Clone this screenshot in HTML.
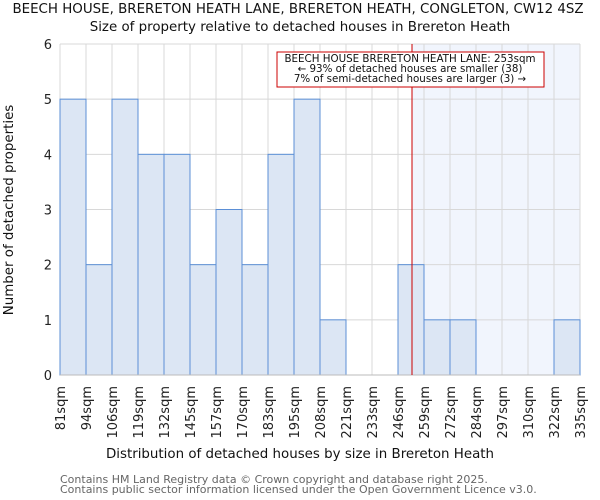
<!DOCTYPE html>
<html><head><meta charset="utf-8"><style>body{margin:0;background:#fff}svg{display:block;font-family:"DejaVu Sans","Liberation Sans",sans-serif}</style></head>
<body>
<svg id="c" width="600" height="500"></svg>
<script>
const categories=["81sqm","94sqm","106sqm","119sqm","132sqm","145sqm","157sqm","170sqm","183sqm","195sqm","208sqm","221sqm","233sqm","246sqm","259sqm","272sqm","284sqm","297sqm","310sqm","322sqm","335sqm"];
const binStarts=[81,94,106,119,132,145,157,170,183,195,208,221,233,246,259,272,284,297,310,322,335];
const counts=[5,2,5,4,4,2,3,2,4,5,1,0,0,2,1,1,0,0,0,1];
const yTicks=[0,1,2,3,4,5,6];
const markerValue=253;
const NS="http://www.w3.org/2000/svg";
const svg=document.getElementById('c');
const L=60,R=580,T=44,B=375,n=counts.length,bw=(R-L)/n;
const x=i=>L+i*bw;
const y=v=>B-(v/6)*(B-T);
function xv(v){let i=0;while(i<n-1&&binStarts[i+1]<=v)i++;return x(i)+(v-binStarts[i])/(binStarts[i+1]-binStarts[i])*bw;}
function mk(t,a,txt){const e=document.createElementNS(NS,t);for(const k in a)e.setAttribute(k,a[k]);if(txt!=null)e.textContent=txt;svg.appendChild(e);return e;}
const mx=xv(markerValue);
let e=mk('rect',{x:mx,y:T,width:R-mx,height:B-T,fill:'#f1f5fd'});


for(let i=0;i<=n;i++){e=mk('line',{x1:x(i),x2:x(i),y1:T,y2:B,stroke:'#d8d8d8','stroke-width':1});

}
yTicks.forEach(v=>{e=mk('line',{x1:L,x2:R,y1:y(v),y2:y(v),stroke:'#d8d8d8','stroke-width':1});


e=mk('text',{x:L-8,y:y(v)+5,'text-anchor':'end','font-size':13,fill:'#222'},v);

});
counts.forEach((c,i)=>{if(c<=0)return;e=mk('rect',{x:x(i),y:y(c),width:bw,height:B-y(c),fill:'#dce6f4',stroke:'#5b8fd6','stroke-width':1});

});
e=mk('line',{x1:L,x2:R,y1:B,y2:B,stroke:'#bbb'});


categories.forEach((c,i)=>{e=mk('text',{transform:`translate(${x(i)+5},386) rotate(-90)`,'text-anchor':'end','font-size':13,fill:'#222'},c);

});
e=mk('line',{x1:mx,x2:mx,y1:T,y2:B,stroke:'#cc0000','stroke-width':1});


e=mk('rect',{x:277,y:52,width:267,height:35,fill:'#fff',stroke:'#cc0000','stroke-width':1});


[["BEECH HOUSE BRERETON HEATH LANE: 253sqm",62],["← 93% of detached houses are smaller (38)",72],["7% of semi-detached houses are larger (3) →",82]].forEach(([t,yy])=>{e=mk('text',{x:410,y:yy,'text-anchor':'middle','font-size':10.3,fill:'#111'},t);

});
e=mk('text',{x:298,y:13,'text-anchor':'middle','font-size':13.4,fill:'#111'},"BEECH HOUSE, BRERETON HEATH LANE, BRERETON HEATH, CONGLETON, CW12 4SZ");


e=mk('text',{x:300,y:31,'text-anchor':'middle','font-size':13.4,fill:'#111'},"Size of property relative to detached houses in Brereton Heath");


e=mk('text',{x:300,y:458,'text-anchor':'middle','font-size':13.4,fill:'#111'},"Distribution of detached houses by size in Brereton Heath");


e=mk('text',{transform:'translate(13,210) rotate(-90)','text-anchor':'middle','font-size':13.4,fill:'#111'},"Number of detached properties");


e=mk('text',{x:60,y:483,'font-size':11,fill:'#666'},"Contains HM Land Registry data © Crown copyright and database right 2025.");


e=mk('text',{x:60,y:493,'font-size':11,fill:'#666'},"Contains public sector information licensed under the Open Government Licence v3.0.");


</script>
</body></html>
